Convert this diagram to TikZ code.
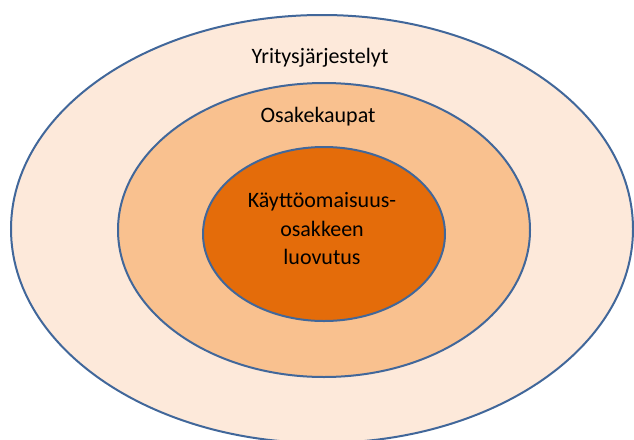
\documentclass[tikz,border=0pt]{standalone}
\usepackage{fontspec}
\setmainfont{Carlito}
\usetikzlibrary{shapes.geometric}
\definecolor{ringline}{HTML}{41679A}
\definecolor{outerfill}{HTML}{FDE9DA}
\definecolor{midfill}{HTML}{F9C18F}
\definecolor{corefill}{HTML}{E46C0A}
\tikzset{ring/.style={ellipse, draw=ringline, line width=2pt, inner sep=0pt},
  label text/.style={font=\fontsize{22}{28.5}\selectfont, inner sep=0pt}}

\begin{document}
\begin{tikzpicture}[x=1pt,y=-1pt]
\useasboundingbox (0,0) rectangle (634,439);
\node[ring, fill=outerfill, minimum width=622pt, minimum height=428pt] (outer) at (322,229) {};
\node[ring, fill=midfill, minimum width=412pt, minimum height=294pt] (mid) at (324,230) {};
\node[ring, fill=corefill, minimum width=242pt, minimum height=174pt] (core) at (324,234) {};
\node[label text] (outerlabel) at (320,58) {Yritysjärjestelyt};
\node[label text] (midlabel) at (318,117) {Osakekaupat};
\node[label text, align=center] (corelabel) at (322,229)%
{Käyttöomaisuus-\\osakkeen\\luovutus};
\end{tikzpicture}
\end{document}
